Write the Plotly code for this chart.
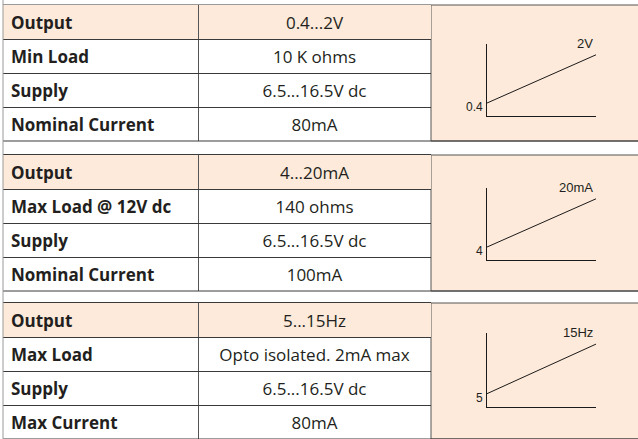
import plotly.graph_objects as go

# ---------------- data ----------------
labels_1 = ["Output", "Min Load", "Supply", "Nominal Current"]
values_1 = ["0.4...2V", "10 K ohms", "6.5...16.5V dc", "80mA"]
labels_2 = ["Output", "Max Load @ 12V dc", "Supply", "Nominal Current"]
values_2 = ["4...20mA", "140 ohms", "6.5...16.5V dc", "100mA"]
labels_3 = ["Output", "Max Load", "Supply", "Max Current"]
values_3 = ["5...15Hz", "Opto isolated. 2mA max", "6.5...16.5V dc", "80mA"]

range_start = [0.4, 4, 5]
range_end = [2, 20, 15]
start_labels = ["0.4", "4", "5"]
end_labels = ["2V", "20mA", "15Hz"]

# ---------------- layout / style ----------------
W, H = 638, 439
BEIGE = "#fdeada"
LINE = "#3a3a3a"
LIGHT = "#9a9a9a"
TEXT = "#231f20"
ROW_H = 34
COL_W = [195, 233]
TABLE_X0 = 3
TEXT_DY = 0.07          # small downward nudge of cell text (in row units)
block_tops = [5, 155, 303]
chart_top = [44, 188, 333]
chart_bot = [116, 260, 407]
chart_x = [487, 596]


def px_x(v):
    return v / W


def px_y(v):
    return 1 - v / H


fig = go.Figure()
blocks = [(labels_1, values_1), (labels_2, values_2), (labels_3, values_3)]
shapes = []
annotations = []
TW = sum(COL_W)
TABLE_X1 = TABLE_X0 + TW

axis_n = 0


def next_axes():
    global axis_n
    axis_n += 1
    if axis_n == 1:
        return "x", "y", "xaxis", "yaxis"
    return "x%d" % axis_n, "y%d" % axis_n, "xaxis%d" % axis_n, "yaxis%d" % axis_n


for i, (labs, vals) in enumerate(blocks):
    n = len(labs)
    top = block_tops[i]
    full_bot = top + ROW_H * n
    bot = min(H, full_bot)
    xa, ya, xk, yk = next_axes()
    rows = list(range(n))
    text_y = [r + TEXT_DY for r in rows]
    # header fill
    shapes.append(dict(type="rect", xref=xa, yref=ya, x0=0, x1=TW, y0=-0.5, y1=0.5,
                       fillcolor=BEIGE, line=dict(width=0), layer="below"))
    # text cells
    fig.add_trace(go.Scatter(
        x=[8] * n, y=text_y, text=labs, mode="text", textposition="middle right",
        textfont=dict(family="Open Sans", size=17, color=TEXT, weight="bold"),
        xaxis=xa, yaxis=ya, hoverinfo="skip", showlegend=False))
    fig.add_trace(go.Scatter(
        x=[COL_W[0] + COL_W[1] / 2] * n, y=text_y, text=vals, mode="text",
        textposition="middle center",
        textfont=dict(family="Open Sans", size=17, color=TEXT),
        xaxis=xa, yaxis=ya, hoverinfo="skip", showlegend=False))
    fig.layout[xk] = dict(domain=[px_x(TABLE_X0), px_x(TABLE_X1)], range=[0, TW],
                          anchor=ya, side="top", showline=True,
                          linecolor=LIGHT if i == 0 else LINE,
                          linewidth=1, tickvals=[COL_W[0]], showgrid=True,
                          gridcolor="#555555", gridwidth=1, showticklabels=False,
                          ticks="", zeroline=False, fixedrange=True)
    if full_bot <= H:
        ydom = [px_y(full_bot), px_y(top)]
        yrng = [n - 0.5, -0.5]
    else:
        ydom = [0, px_y(top)]
        yrng = [n - 0.5 - (full_bot - H) / ROW_H, -0.5]
    fig.layout[yk] = dict(domain=ydom, range=yrng,
                          anchor=xa, tickvals=[r + 0.5 for r in rows[:-1]],
                          showgrid=True, gridcolor=LINE, gridwidth=1,
                          showticklabels=False, ticks="", zeroline=False,
                          showline=False, fixedrange=True)
    # chart panel
    shapes.append(dict(type="rect", xref="paper", yref="paper",
                       x0=px_x(TABLE_X1), x1=px_x(W + 5), y0=px_y(bot), y1=px_y(top),
                       fillcolor=BEIGE, line=dict(color="#555555", width=1), layer="below"))
    # bottom rule across full width
    if full_bot <= H:
        shapes.append(dict(type="line", xref="paper", yref="paper",
                           x0=px_x(TABLE_X0), x1=1, y0=px_y(bot), y1=px_y(bot),
                           line=dict(color=LINE, width=1)))

    # mini chart
    s, e = range_start[i], range_end[i]
    span = (e - s) / 0.67
    lo = s - 0.18 * span
    hi = lo + span
    cxa, cya, cxk, cyk = next_axes()
    fig.add_trace(go.Scatter(x=[0, 1], y=[s, e], mode="lines",
                             line=dict(color="#1a1a1a", width=1),
                             xaxis=cxa, yaxis=cya, showlegend=False, hoverinfo="skip"))
    ax_common = dict(showgrid=False, zeroline=False, showline=True,
                     linecolor="#1a1a1a", linewidth=1, ticks="",
                     showticklabels=False, fixedrange=True)
    fig.layout[cxk] = dict(domain=[px_x(chart_x[0]), px_x(chart_x[1])], range=[0, 1],
                           anchor=cya, **ax_common)
    fig.layout[cyk] = dict(domain=[px_y(chart_bot[i]), px_y(chart_top[i])], range=[lo, hi],
                           anchor=cxa, **ax_common)
    annotations.append(dict(x=0, y=s, xref=cxa, yref=cya, text=start_labels[i],
                            showarrow=False, xanchor="right", yanchor="middle",
                            xshift=-2, yshift=-4,
                            font=dict(family="Liberation Sans", size=12, color=TEXT)))
    annotations.append(dict(x=1, y=e, xref=cxa, yref=cya, text=end_labels[i],
                            showarrow=False, xanchor="right", yanchor="bottom",
                            xshift=-1, yshift=2,
                            font=dict(family="Liberation Sans", size=13, color=TEXT)))

# left border
shapes.append(dict(type="line", xref="paper", yref="paper",
                   x0=px_x(TABLE_X0), x1=px_x(TABLE_X0), y0=0, y1=1,
                   line=dict(color=LIGHT, width=1)))

fig.update_layout(
    width=W, height=H,
    margin=dict(l=0, r=0, t=0, b=0),
    paper_bgcolor="white", plot_bgcolor="rgba(0,0,0,0)",
    shapes=shapes, annotations=annotations, showlegend=False,
)

fig.write_html("out.html", config={"displayModeBar": False},
               post_script="document.body.style.margin='0px';document.body.style.overflow='hidden';")
